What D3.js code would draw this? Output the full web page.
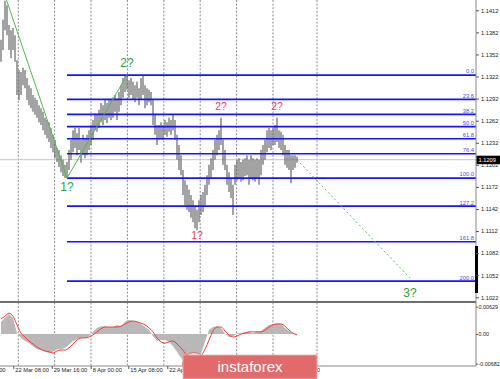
<!DOCTYPE html>
<html><head><meta charset="utf-8">
<script src="https://cdn.jsdelivr.net/npm/d3@7"></script>
<style>body{margin:0;background:#fff}svg{display:block}text{font-family:"Liberation Sans",Arial,sans-serif}</style>
</head><body><svg id="c" width="500" height="379"></svg>
<script>
// ---------- DATA ----------
const barHigh = [
1.1372,1.1399,1.1425,1.1419,1.1392,1.1385,1.1388,1.1378,1.1344,1.1331,
1.1328,1.1334,1.1331,1.1320,1.1310,1.1306,1.1297,1.1293,1.1290,1.1283,
1.1279,1.1274,1.1266,1.1263,1.1260,1.1252,1.1243,1.1236,1.1225,1.1222,
1.1215,1.1209,1.1202,1.1206,1.1222,1.1236,1.1249,1.1252,1.1245,1.1252,
1.1236,1.1243,1.1238,1.1243,1.1249,1.1256,1.1263,1.1272,1.1270,1.1277,
1.1286,1.1283,1.1290,1.1286,1.1290,1.1290,1.1293,1.1297,1.1290,1.1301,
1.1310,1.1320,1.1323,1.1324,1.1317,1.1320,1.1315,1.1310,1.1315,1.1306,
1.1320,1.1323,1.1310,1.1306,1.1304,1.1301,1.1290,1.1270,1.1256,1.1256,
1.1260,1.1256,1.1263,1.1260,1.1266,1.1263,1.1270,1.1263,1.1243,1.1229,
1.1215,1.1195,1.1181,1.1175,1.1168,1.1161,1.1154,1.1147,1.1141,1.1154,
1.1161,1.1165,1.1175,1.1188,1.1202,1.1211,1.1222,1.1236,1.1243,1.1249,
1.1266,1.1236,1.1222,1.1202,1.1192,1.1184,1.1175,1.1202,1.1209,1.1211,
1.1206,1.1209,1.1211,1.1215,1.1209,1.1215,1.1211,1.1209,1.1211,1.1209,
1.1222,1.1229,1.1236,1.1249,1.1252,1.1249,1.1252,1.1256,1.1266,1.1249,
1.1247,1.1243,1.1229,1.1222,1.1222,1.1215,1.1215,1.1215,1.1213];
const barLow = [
1.1342,1.1358,1.1385,1.1378,1.1358,1.1347,1.1358,1.1342,1.1297,1.1290,
1.1297,1.1310,1.1306,1.1290,1.1283,1.1279,1.1274,1.1270,1.1266,1.1260,
1.1256,1.1249,1.1243,1.1238,1.1233,1.1225,1.1219,1.1211,1.1206,1.1199,
1.1192,1.1187,1.1184,1.1184,1.1195,1.1209,1.1219,1.1225,1.1215,1.1222,
1.1205,1.1215,1.1211,1.1215,1.1222,1.1229,1.1236,1.1249,1.1247,1.1252,
1.1260,1.1256,1.1263,1.1259,1.1266,1.1263,1.1266,1.1274,1.1263,1.1274,
1.1283,1.1293,1.1301,1.1304,1.1293,1.1297,1.1290,1.1287,1.1293,1.1283,
1.1290,1.1297,1.1279,1.1283,1.1287,1.1283,1.1256,1.1243,1.1229,1.1236,
1.1238,1.1236,1.1243,1.1240,1.1247,1.1243,1.1249,1.1236,1.1209,1.1195,
1.1188,1.1161,1.1147,1.1141,1.1138,1.1130,1.1124,1.1116,1.1113,1.1124,
1.1134,1.1138,1.1147,1.1161,1.1175,1.1184,1.1195,1.1209,1.1215,1.1222,
1.1229,1.1202,1.1195,1.1175,1.1165,1.1157,1.1134,1.1175,1.1181,1.1184,
1.1179,1.1181,1.1187,1.1188,1.1175,1.1184,1.1181,1.1179,1.1184,1.1175,
1.1188,1.1202,1.1209,1.1219,1.1225,1.1222,1.1229,1.1229,1.1233,1.1225,
1.1222,1.1215,1.1202,1.1198,1.1195,1.1177,1.1195,1.1198,1.1205];

const histValues = [
0.0028,0.0037,0.0046,0.0037,0.0002,-0.0009,-0.0016,-0.0021,-0.0028,-0.0035,
-0.0037,-0.0041,-0.0044,-0.0041,-0.0035,-0.0035,-0.0032,-0.0025,-0.0016,-0.0012,
-0.0009,-0.0009,-0.0005,0.0005,0.0014,0.0018,0.0018,0.0016,0.0016,0.0021,
0.0018,0.0028,0.0032,0.0030,0.0028,0.0023,0.0016,0.0009,-0.0005,-0.0016,
-0.0014,-0.0014,-0.0018,-0.0028,-0.0041,-0.0055,-0.0065,-0.0069,-0.0069,-0.0065,
-0.0046,-0.0018,0.0009,0.0016,0.0018,0.0014,0.0000,-0.0007,-0.0005,0.0002,
0.0002,0.0005,0.0005,0.0002,0.0005,0.0007,0.0014,0.0021,0.0023,0.0025,
0.0023,0.0014,0.0007,0.0002,0.0000];
const signalValues = [
0.0035,0.0041,0.0048,0.0041,0.0021,0.0002,-0.0007,-0.0016,-0.0023,-0.0030,
-0.0035,-0.0039,-0.0041,-0.0044,-0.0039,-0.0037,-0.0037,-0.0032,-0.0023,-0.0014,
-0.0009,-0.0009,-0.0007,-0.0002,0.0005,0.0012,0.0016,0.0016,0.0016,0.0016,
0.0018,0.0023,0.0028,0.0030,0.0028,0.0025,0.0021,0.0014,0.0005,-0.0009,
-0.0018,-0.0021,-0.0018,-0.0016,-0.0023,-0.0032,-0.0044,-0.0053,-0.0058,-0.0058,
-0.0051,-0.0035,-0.0014,0.0007,0.0016,0.0016,0.0007,-0.0002,-0.0007,-0.0005,
0.0000,0.0002,0.0005,0.0005,0.0005,0.0005,0.0009,0.0016,0.0021,0.0023,
0.0023,0.0018,0.0009,0.0002,-0.0002];

const priceTicks = [1.1412,1.1382,1.1352,1.1322,1.1292,1.1262,1.1232,1.1202,1.1172,1.1142,1.1112,1.1082,1.1052,1.1022];
const oscTicks = [0.00629, 0, -0.00682];
const oscTickLabels = ["0.00629","0.00","-0.00682"];
const currentPrice = 1.1209;

const fibLevels = [0, 23.6, 38.2, 50, 61.8, 76.4, 100, 127.2, 161.8, 200];
const fibHighPrice = 1.1324, fibLowPrice = 1.1184, fibStartBar = 33;

const timeLabels = ["15 Mar 00:00","22 Mar 08:00","29 Mar 16:00","8 Apr 00:00","15 Apr 08:00","22 Apr 16:00","14 May 16:00"];
const timeLabelBars = [-15.5, 6.15, 25.35, 44.85, 63.65, 83.15, 141.2];
const gridBars = [8.65, 26.8, 45, 63.2, 81.4, 99.6, 117.8, 136, 158];

const waveBars = [2, 33, 63];
const wavePrices = [1.1432, 1.1184, 1.1324];
const projBars = [148, 204.5];
const projPrices = [1.1209, 1.1048];

const waveText   = ["2?","1?","2?","2?","1?","3?"];
const waveBar    = [63, 33, 110, 138, 98, 204.5];
const wavePrice  = [1.1324, 1.1184, 1.1266, 1.1266, 1.1113, 1.1048];
const waveSide   = ["high","low","high","high","low","low"];
const waveDegree = ["major","major","minor","minor","minor","major"];

// ---------- CHART ----------
const svg = d3.select("#c");
const axisX = 476, mainBottom = 301.5, oscBottom = 366;
const x  = d3.scaleLinear().domain([0, barHigh.length - 1]).range([1, 297]);
const y  = d3.scaleLinear().domain([1.1022, 1.1412]).range([297.3, 10.3]);
const xo = d3.scaleLinear().domain([0, histValues.length - 1]).range([1, 297]);
const yo = d3.scaleLinear().domain([-0.00682, 0.00629]).range([363.6, 306.7]);

const defs = svg.append("defs");
defs.append("clipPath").attr("id","mc").append("rect").attr("x",0).attr("y",0).attr("width",axisX).attr("height",mainBottom);
defs.append("clipPath").attr("id","oc").append("rect").attr("x",0).attr("y",303).attr("width",axisX).attr("height",oscBottom-303);

// grid
svg.append("g").selectAll("line").data(gridBars).join("line")
  .attr("x1", d => x(d)).attr("x2", d => x(d)).attr("y1", 0).attr("y2", oscBottom)
  .attr("stroke", "#707070").attr("stroke-width", 0.8).attr("stroke-dasharray", "2,1.6");

const main = svg.append("g").attr("clip-path", "url(#mc)");

// current price line
main.append("line").attr("x1", 0).attr("x2", axisX).attr("y1", y(currentPrice)).attr("y2", y(currentPrice))
  .attr("stroke", "#c8c8c8").attr("stroke-width", 1);

// price bars
main.append("g").selectAll("line").data(barHigh).join("line")
  .attr("x1", (d,i) => x(i)).attr("x2", (d,i) => x(i))
  .attr("y1", d => y(d)).attr("y2", (d,i) => y(barLow[i]))
  .attr("stroke", "#666").attr("stroke-width", 1.2);

// fib levels
const fibPrice = l => fibHighPrice - (fibHighPrice - fibLowPrice) * l / 100;
const fib = main.append("g");
fib.selectAll("line").data(fibLevels).join("line")
  .attr("x1", x(fibStartBar)).attr("x2", axisX)
  .attr("y1", d => y(fibPrice(d))).attr("y2", d => y(fibPrice(d)))
  .attr("stroke", "#1414ff").attr("stroke-width", 1.7);
fib.selectAll("text").data(fibLevels).join("text")
  .attr("x", axisX - 2).attr("y", d => y(fibPrice(d)) - 1.6)
  .attr("text-anchor", "end").attr("font-size", 5.8).attr("fill", "#4a4aff")
  .text(d => d.toFixed(1));

// wave lines
const line = d3.line().x(d => x(d[0])).y(d => y(d[1]));
main.append("path").attr("d", line(d3.zip(waveBars, wavePrices)))
  .attr("fill", "none").attr("stroke", "#4fb84f").attr("stroke-width", 1);
main.append("path").attr("d", line(d3.zip(projBars, projPrices)))
  .attr("fill", "none").attr("stroke", "#5cbf5c").attr("stroke-width", 1).attr("stroke-dasharray", "2,2.5");

// wave labels
svg.append("g").selectAll("text").data(waveText).join("text")
  .attr("x", (d,i) => x(waveBar[i]))
  .attr("y", (d,i) => y(wavePrice[i]) + (waveSide[i] === "high" ? -8 : (waveDegree[i] === "major" ? (i === 5 ? 19 : 13) : 9)))
  .attr("text-anchor", "middle")
  .attr("font-size", (d,i) => waveDegree[i] === "major" ? 12 : 10.5)
  .attr("fill", (d,i) => waveDegree[i] === "major" ? "#2f9f3a" : "#ff3c3c")
  .text(d => d);

// oscillator
const osc = svg.append("g").attr("clip-path", "url(#oc)");
osc.append("path")
  .attr("d", d3.area().x((d,i) => xo(i)).y0(yo(0)).y1(d => yo(d))(histValues))
  .attr("fill", "#b8b8b8");
osc.append("path")
  .attr("d", d3.line().x((d,i) => xo(i)).y(d => yo(d)).curve(d3.curveMonotoneX)(signalValues))
  .attr("fill", "none").attr("stroke", "#ff3a3a").attr("stroke-width", 1);

// frame lines
svg.append("line").attr("x1", 0).attr("x2", axisX).attr("y1", 302).attr("y2", 302).attr("stroke", "#6e6e6e").attr("stroke-width", 2);
svg.append("line").attr("x1", 0).attr("x2", axisX).attr("y1", oscBottom).attr("y2", oscBottom).attr("stroke", "#8a8a8a").attr("stroke-width", 1);
svg.append("line").attr("x1", axisX).attr("x2", axisX).attr("y1", 0).attr("y2", oscBottom).attr("stroke", "#8a8a8a").attr("stroke-width", 1);
svg.append("rect").attr("x", axisX - 1).attr("y", 246).attr("width", 3).attr("height", 47).attr("fill", "#000");

// price axis
const yAxis = d3.axisRight(y).tickValues(priceTicks).tickFormat(d3.format(".4f")).tickSize(3).tickPadding(2);
const ya = svg.append("g").attr("transform", `translate(${axisX},0)`).call(yAxis);
ya.select(".domain").remove();
ya.selectAll("line").attr("stroke", "#555");
ya.selectAll("text").attr("font-size", 5.7).attr("fill", "#222").attr("font-family", "Liberation Sans, Arial");

// current price box
svg.append("rect").attr("x", axisX + 0.5).attr("y", y(currentPrice) - 4).attr("width", 24).attr("height", 8.5).attr("fill", "#000");
svg.append("text").attr("x", axisX + 2.5).attr("y", y(currentPrice) + 2.2).attr("font-size", 5.7).attr("fill", "#fff").text(currentPrice.toFixed(4));

// oscillator axis
const oAxis = d3.axisRight(yo).tickValues(oscTicks).tickFormat((d,i) => oscTickLabels[i]).tickSize(2).tickPadding(0.5);
const oa = svg.append("g").attr("transform", `translate(${axisX},0)`).call(oAxis);
oa.select(".domain").remove();
oa.selectAll("line").attr("stroke", "#555");
oa.selectAll("text").attr("font-size", 5.4).attr("fill", "#222").attr("font-family", "Liberation Sans, Arial");

// time axis
const xAxis = d3.axisBottom(x).tickValues(timeLabelBars).tickFormat((d,i) => timeLabels[i]).tickSize(3).tickPadding(0);
const xa = svg.append("g").attr("transform", `translate(0,${oscBottom})`).call(xAxis);
xa.select(".domain").remove();
xa.selectAll("line").attr("stroke", "#555");
xa.selectAll("text").attr("text-anchor", "start").attr("x", 1.5).attr("y", 2).attr("dy", "0.71em")
  .attr("font-size", 5.7).attr("fill", "#222").attr("font-family", "Liberation Sans, Arial");

// logo
const logo = svg.append("g");
logo.append("circle").attr("cx", 194).attr("cy", 364).attr("r", 11.5).attr("fill", "#e4e4e4").attr("stroke", "#e06a6a").attr("stroke-width", 1);
logo.append("rect").attr("x", 183).attr("y", 355).attr("width", 134).attr("height", 24).attr("fill", "#e36a6a").attr("stroke", "#f1b3b3").attr("stroke-width", 0.8);
logo.append("text").attr("x", 250).attr("y", 372).attr("text-anchor", "middle")
  .attr("font-family", "Open Sans, Lato, sans-serif").attr("font-size", 15).attr("fill", "#fff").text("instaforex");
</script></body></html>
